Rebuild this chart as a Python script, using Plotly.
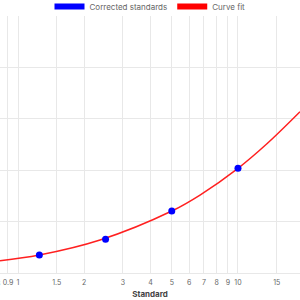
import math
import plotly.graph_objects as go

# Data
std_x = [1.25, 2.5, 5, 10]
std_y = [0.35, 0.656, 1.206, 2.037]

fit_x = [0.828, 1.25, 2.36, 5, 6.72, 10, 13.5, 19.14]
fit_y = [0.239, 0.350, 0.642, 1.206, 1.517, 2.037, 2.510, 3.138]

tick_vals = [0.8, 0.9, 1, 1.5, 2, 3, 4, 5, 6, 7, 8, 9, 10, 15]
tick_text = ["0.8", "0.9", "1", "1.5", "2", "3", "4", "5", "6", "7", "8", "9", "10", "15"]

x_range = [0.828, 19.14]
y_range = [0, 5]

FONT = "Inter"

lo, hi = math.log10(x_range[0]), math.log10(x_range[1])

fig = go.Figure()
fig.add_trace(go.Scatter(x=fit_x, y=fit_y, mode="lines", line=dict(color="#ff2020", width=1.5, shape="spline", smoothing=1.0),
                         showlegend=False, hoverinfo="skip"))
fig.add_trace(go.Scatter(x=std_x, y=std_y, mode="markers", marker=dict(color="blue", size=7),
                         showlegend=False))
# legend swatches
fig.add_trace(go.Scatter(x=[None], y=[None], mode="lines", line=dict(color="blue", width=6),
                         name="Corrected standards"))
fig.add_trace(go.Scatter(x=[None], y=[None], mode="lines", line=dict(color="red", width=6),
                         name="Curve fit"))

fig.update_layout(
    width=300, height=300,
    margin=dict(l=0, r=0, t=16, b=27, autoexpand=False),
    paper_bgcolor="white", plot_bgcolor="white",
    font=dict(family=FONT, size=8, color="#666"),
    legend=dict(orientation="h", x=0.5, xanchor="center", xref="container",
                y=0.978, yanchor="middle", yref="container",
                font=dict(size=8, color="#666"), tracegroupgap=0, bgcolor="rgba(0,0,0,0)"),
    xaxis=dict(type="log", range=[lo, hi],
               tickmode="array", tickvals=tick_vals, ticktext=tick_text,
               showgrid=True, gridcolor="#e8e8e8", gridwidth=1, ticks="",
               tickfont=dict(size=7, color="#666"), ticklabelstandoff=3,
               showline=True, linecolor="#e8e8e8",
               title=dict(text="<b>Standard</b>", font=dict(size=8, color="#444"), standoff=4)),
    yaxis=dict(range=y_range, dtick=1, showgrid=True, gridcolor="#e8e8e8",
               showticklabels=False, zeroline=False, ticks=""),
    annotations=[dict(x=(math.log10(tick_vals[0]) - lo) / (hi - lo), y=0, xref="paper", yref="paper",
                      xanchor="center", yanchor="top", yshift=-4, xshift=-2,
                      text=tick_text[0], showarrow=False, font=dict(size=7, color="#666"))],
)

fig.write_html("out.html")
